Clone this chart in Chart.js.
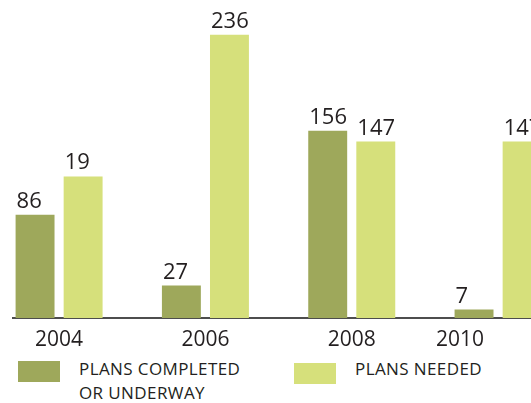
<!DOCTYPE html>
<html>
<head>
<meta charset="utf-8">
<script src="https://cdn.jsdelivr.net/npm/chart.js@4/dist/chart.umd.min.js"></script>
<style>
  html, body { margin: 0; padding: 0; background: #fff; overflow: hidden; }
  #wrap { position: relative; width: 531px; height: 403px; }
  #grafico { position: absolute; left: 0; top: 0; }
  .leg { position: absolute; font-family: "Open Sans", sans-serif; font-size: 17px; color: #231f20; line-height: 24px; letter-spacing: 0.4px; }
  .box { position: absolute; width: 42px; height: 21px; }
</style>
</head>
<body>
<div id="wrap">
  <canvas id="grafico" width="531" height="350"></canvas>
  <div class="box" id="box0" style="left:18px; top:361px;"></div>
  <div class="leg" id="leg0" style="left:79px; top:357px;"></div>
  <div class="box" id="box1" style="left:294px; top:363px;"></div>
  <div class="leg" id="leg1" style="left:355px; top:357px;"></div>
</div>
<script>
const anos = [2004, 2006, 2008, 2010];
const concluidos = [86, 27, 156, 7];
const necessarios = [118, 236, 147, 147];
const rotulosConcluidos = ["86", "27", "156", "7"];
const rotulosNecessarios = ["19", "236", "147", "147"];
const nomesSeries = [["PLANS COMPLETED", "OR UNDERWAY"], ["PLANS NEEDED"]];
const cores = ["#9ea85b", "#d6e07b"];

// legenda em HTML
nomesSeries.forEach((linhas, i) => {
  document.getElementById("leg" + i).innerHTML = linhas.join("<br>");
  document.getElementById("box" + i).style.background = cores[i];
});

// rótulos acima das barras + anos no eixo
const rotulosPlugin = {
  id: "rotulos",
  afterDatasetsDraw(chart) {
    const ctx = chart.ctx;
    const textos = [rotulosConcluidos, rotulosNecessarios];
    ctx.save();
    ctx.font = "22px 'Open Sans'";
    ctx.fillStyle = "#231f20";
    ctx.textAlign = "left";
    ctx.textBaseline = "alphabetic";
    chart.data.datasets.forEach((ds, i) => {
      chart.getDatasetMeta(i).data.forEach((bar, j) => {
        ctx.fillText(textos[i][j], bar.x - bar.width / 2 + 1, bar.y - 7);
      });
    });

    // anos: o de 2010 fica sob a barra escura, como no original
    const x = chart.scales.x;
    ctx.font = "21px 'Open Sans'";
    ctx.textAlign = "center";
    anos.forEach((a, i) => {
      const ajuste = i === anos.length - 1 ? -0.52 : 0;
      ctx.fillText(String(a), x.getPixelForValue(a + ajuste), x.top + 28);
    });
    ctx.restore();
  }
};

new Chart(document.getElementById("grafico"), {
  type: "bar",
  data: {
    datasets: [
      {
        label: nomesSeries[0].join(" "),
        data: anos.map((a, i) => ({ x: a, y: concluidos[i] })),
        backgroundColor: cores[0],
        categoryPercentage: 0.657,
        barPercentage: 0.81
      },
      {
        label: nomesSeries[1].join(" "),
        data: anos.map((a, i) => ({ x: a, y: necessarios[i] })),
        backgroundColor: cores[1],
        categoryPercentage: 0.657,
        barPercentage: 0.81
      }
    ]
  },
  options: {
    responsive: false,
    animation: false,
    layout: { padding: { left: 13, right: 0, top: 0, bottom: 0 } },
    plugins: { legend: { display: false }, tooltip: { enabled: false } },
    scales: {
      x: {
        type: "linear",
        offset: false,
        min: 2003.37,
        max: 2010.45,
        afterBuildTicks: s => { s.ticks = anos.map(v => ({ value: v })); },
        afterFit: s => { s.height = 32; },
        grid: { display: false, drawTicks: false },
        border: { display: true, color: "#4d4d4d", width: 2 },
        ticks: { display: false }
      },
      y: {
        display: false,
        min: 0,
        max: 265
      }
    }
  },
  plugins: [rotulosPlugin]
});
</script>
</body>
</html>
